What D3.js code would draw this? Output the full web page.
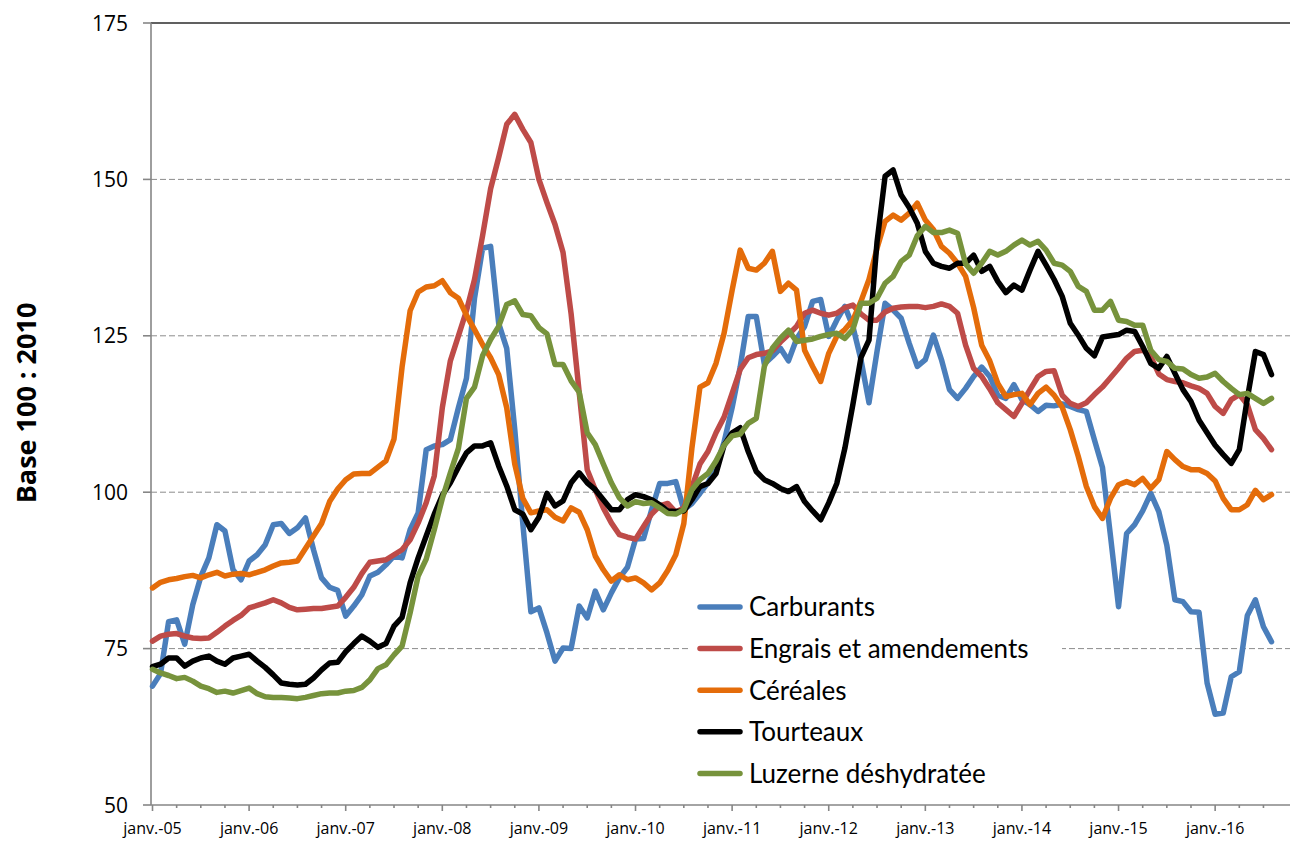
<!DOCTYPE html>
<html>
<head>
    <meta charset="utf-8">
    <title>Indices des prix des intrants</title>
    <script src="https://d3js.org/d3.v7.min.js"></script>
    <style>
        body { margin: 0; background: #fff; }
        .grid { stroke: #8c8c8c; stroke-width: 1; stroke-dasharray: 6,3; }
        .axis-line { stroke: #868686; stroke-width: 1.6; }
        .tick-y { font-family: "Open Sans", sans-serif; font-size: 21px; fill: #000; }
        .tick-x { font-family: "Open Sans", sans-serif; font-size: 16px; fill: #000; }
        .legend-label { font-family: Lato, sans-serif; font-size: 26px; fill: #000; }
        .serie { fill: none; stroke-width: 5.5; stroke-linejoin: round; stroke-linecap: round; }
    </style>
</head>
<body>
    <div id="chart"></div>
    <script>
        const width = 1290;
        const height = 842;

        // séries mensuelles, janv. 2005 -> août 2016 (base 100 : 2010)
        const carburants = [
            69.0, 71.0, 79.3, 79.6, 75.7, 82.0, 86.5, 89.5, 94.8, 93.8, 87.6, 86.0,
            89.0, 90.0, 91.6, 94.8, 95.0, 93.4, 94.3, 95.9, 90.8, 86.3, 84.8, 84.3,
            80.2, 81.8, 83.6, 86.6, 87.2, 88.4, 89.8, 89.5, 94.0, 96.7, 106.8, 107.4,
            107.6, 108.4, 113.5, 118.2, 131.0, 139.0, 139.3, 127.0, 123.0, 110.0, 95.0, 80.9,
            81.5, 77.5, 73.0, 75.1, 75.0, 81.8, 79.9, 84.2, 81.2, 83.9, 86.3, 88.0,
            92.5, 92.6, 97.2, 101.4, 101.4, 101.7, 97.2, 98.2, 99.8, 101.5, 104.0, 108.0,
            113.5, 120.0, 128.1, 128.1, 120.5, 121.7, 123.0, 121.0, 124.5, 126.5, 130.5, 130.8,
            124.9, 127.5, 129.7, 126.5, 121.2, 114.3, 122.5, 130.2, 129.1, 127.8, 123.8, 120.1,
            121.2, 125.1, 121.2, 116.4, 115.0, 116.6, 118.5, 120.0, 118.5, 115.5, 115.0, 117.2,
            114.8, 114.0, 112.9, 113.9, 113.8, 114.1, 113.7, 113.2, 112.9, 108.4, 104.0, 93.0,
            81.7, 93.4, 94.8, 97.0, 99.8, 96.9, 91.5, 82.8, 82.5, 80.9, 80.8, 69.5,
            64.5, 64.7, 70.5, 71.3, 80.3, 82.8, 78.5, 76.1
        ];
        const engrais = [
            76.2, 77.0, 77.3, 77.4, 77.0, 76.7, 76.6, 76.7, 77.6, 78.6, 79.5, 80.3,
            81.5, 81.9, 82.3, 82.8, 82.3, 81.6, 81.2, 81.3, 81.4, 81.4, 81.6, 81.8,
            83.2, 84.8, 87.0, 88.8, 89.0, 89.2, 90.0, 90.8, 92.4, 95.1, 98.3, 102.6,
            113.5, 121.0, 125.0, 129.0, 134.0, 141.0, 148.5, 153.5, 158.8, 160.4, 158.0, 155.9,
            150.0, 146.3, 142.8, 138.3, 128.5, 116.0, 103.6, 100.4, 97.5, 95.1, 93.2, 92.8,
            92.5, 94.5, 96.5, 97.8, 98.2, 96.8, 97.5, 100.8, 104.5, 106.5, 109.5, 112.0,
            115.8, 119.6, 121.5, 122.0, 122.2, 122.6, 124.0, 125.2, 126.5, 128.6, 129.1, 128.6,
            128.3, 128.6, 129.5, 129.9, 128.5, 127.5, 127.5, 128.8, 129.4, 129.6, 129.7, 129.7,
            129.5, 129.7, 130.1, 129.7, 128.6, 123.5, 119.8, 118.5, 116.5, 114.3, 113.2, 112.1,
            114.2, 116.4, 118.5, 119.3, 119.4, 115.5, 114.2, 113.7, 114.3, 115.6, 116.8, 118.3,
            119.8, 121.4, 122.5, 122.7, 121.7, 118.9, 118.0, 117.7, 117.5, 117.0, 116.6, 115.8,
            113.7, 112.6, 114.8, 115.6, 114.0, 110.0, 108.6, 106.8
        ];
        const cereales = [
            84.7, 85.6, 86.0, 86.2, 86.5, 86.7, 86.3, 86.8, 87.2, 86.6, 86.9, 87.0,
            86.8, 87.2, 87.6, 88.2, 88.7, 88.8, 89.0, 91.0, 93.0, 95.0, 98.5, 100.5,
            102.0, 102.9, 103.0, 103.0, 104.0, 105.0, 108.5, 120.0, 129.0, 132.0, 132.8, 133.0,
            133.8, 131.9, 131.0, 128.3, 126.0, 123.6, 121.5, 118.8, 113.5, 104.5, 99.0, 96.7,
            97.0, 97.2, 96.0, 95.4, 97.5, 96.8, 94.0, 89.8, 87.6, 85.8, 86.8, 86.0,
            86.3, 85.5, 84.4, 85.5, 87.5, 90.0, 95.0, 107.0, 116.8, 117.5, 120.6, 125.4,
            132.3, 138.7, 135.8, 135.5, 136.6, 138.5, 132.1, 133.4, 132.3, 122.7, 120.1, 117.7,
            122.2, 124.9, 126.0, 127.5, 130.5, 134.0, 139.0, 143.3, 144.3, 143.5, 144.6, 146.2,
            143.5, 142.0, 139.3, 138.2, 136.6, 134.5, 129.5, 123.5, 121.0, 117.4, 115.3, 115.6,
            115.8, 114.0, 115.8, 116.8, 115.5, 113.6, 110.0, 105.7, 100.9, 97.7, 95.8, 99.0,
            101.2, 101.7, 101.2, 102.2, 100.6, 102.0, 106.5, 105.2, 104.1, 103.6, 103.6, 103.0,
            101.8, 99.0, 97.2, 97.2, 98.0, 100.3, 98.8, 99.6
        ];
        const tourteaux = [
            72.1, 72.5, 73.5, 73.5, 72.2, 73.0, 73.5, 73.8, 73.0, 72.5, 73.5, 73.8,
            74.1, 73.0, 72.0, 70.8, 69.5, 69.3, 69.2, 69.3, 70.3, 71.6, 72.7, 72.8,
            74.5, 75.8, 77.0, 76.2, 75.2, 75.8, 78.6, 80.0, 85.5, 89.5, 93.0, 96.5,
            99.5, 101.5, 104.0, 106.3, 107.4, 107.4, 107.9, 104.2, 101.0, 97.2, 96.5, 94.0,
            96.0, 99.8, 97.8, 98.6, 101.5, 103.1, 101.5, 100.4, 98.8, 97.2, 97.2, 98.8,
            99.6, 99.3, 98.8, 98.0, 97.0, 96.9, 97.0, 98.8, 100.9, 101.4, 103.0, 107.5,
            109.5, 110.3, 106.5, 103.3, 102.0, 101.4, 100.6, 100.1, 100.9, 98.5, 97.0, 95.6,
            98.3, 101.4, 107.0, 114.0, 121.5, 124.3, 140.0, 150.5, 151.5, 147.5, 145.5, 143.0,
            138.5, 136.6, 136.1, 135.8, 136.6, 136.6, 137.9, 135.3, 136.1, 133.7, 131.9, 133.1,
            132.3, 135.5, 138.5, 136.3, 134.0, 131.3, 127.0, 125.1, 123.0, 121.8, 124.8, 125.0,
            125.2, 125.9, 125.7, 123.3, 120.6, 119.8, 121.7, 119.0, 116.4, 114.5, 111.5, 109.5,
            107.5, 106.0, 104.6, 106.8, 115.0, 122.5, 122.0, 118.8
        ];
        const luzerne = [
            71.7, 71.1, 70.7, 70.2, 70.4, 69.8, 69.0, 68.6, 68.0, 68.2, 67.9, 68.3,
            68.7, 67.8, 67.3, 67.2, 67.2, 67.1, 67.0, 67.2, 67.5, 67.8, 67.9, 67.9,
            68.2, 68.3, 68.8, 70.0, 71.8, 72.4, 74.0, 75.4, 80.7, 86.6, 89.3, 94.0,
            99.0, 103.1, 107.0, 115.0, 116.8, 121.8, 124.4, 126.5, 130.0, 130.6, 128.4, 128.2,
            126.3, 125.3, 120.4, 120.4, 117.8, 116.0, 109.5, 107.6, 104.5, 101.5, 99.1, 97.8,
            98.5, 98.2, 98.3, 97.5, 96.6, 96.5, 97.2, 100.4, 102.0, 103.0, 105.0, 107.5,
            109.0, 109.3, 111.0, 111.8, 120.1, 123.0, 124.6, 125.9, 124.1, 124.3, 124.5, 124.9,
            125.2, 125.4, 124.6, 126.0, 130.2, 130.2, 131.0, 133.4, 134.5, 136.9, 137.9, 141.0,
            142.5, 141.5, 141.5, 141.9, 141.4, 136.5, 135.0, 136.6, 138.5, 137.9, 138.5, 139.5,
            140.3, 139.5, 140.1, 138.7, 136.6, 136.3, 135.3, 132.9, 132.1, 129.1, 129.1, 130.5,
            127.5, 127.3, 126.7, 126.7, 122.7, 121.2, 120.9, 119.8, 119.7, 118.8, 118.2, 118.4,
            119.0, 117.7, 116.6, 115.6, 115.8, 115.0, 114.2, 115.0
        ];

        const seriesNames = ["Carburants", "Engrais et amendements", "Céréales", "Tourteaux", "Luzerne déshydratée"];
        const seriesColors = ["#4a7ebb", "#be4b48", "#e46c0a", "#000000", "#77933c"];
        const seriesValues = [carburants, engrais, cereales, tourteaux, luzerne];

        const yearLabels = ["janv.-05", "janv.-06", "janv.-07", "janv.-08", "janv.-09", "janv.-10",
                            "janv.-11", "janv.-12", "janv.-13", "janv.-14", "janv.-15", "janv.-16"];
        const yTicks = [50, 75, 100, 125, 150, 175];

        const svg = d3.select("#chart")
            .append("svg")
            .attr("width", width)
            .attr("height", height);

        const x = d3.scaleLinear()
            .domain([0, carburants.length - 1])
            .range([152.5, 1271.5]);

        const y = d3.scaleLinear()
            .domain([50, 175])
            .range([805, 23]);

        const left = 151, right = 1290;

        // grille horizontale
        svg.selectAll(".grid")
            .data(yTicks.filter(t => t > 50 && t < 175))
            .enter()
            .append("line")
            .attr("class", "grid")
            .attr("x1", left).attr("x2", right)
            .attr("y1", d => y(d)).attr("y2", d => y(d));

        // ligne du haut (175)
        svg.append("line")
            .attr("x1", left).attr("x2", right)
            .attr("y1", y(175)).attr("y2", y(175))
            .attr("stroke", "#2b2b2b")
            .attr("stroke-width", 1.3);

        // axe Y
        svg.append("line")
            .attr("class", "axis-line")
            .attr("x1", left).attr("x2", left)
            .attr("y1", y(175)).attr("y2", y(50));

        svg.selectAll(".ytick")
            .data(yTicks)
            .enter()
            .append("line")
            .attr("class", "axis-line")
            .attr("x1", left - 8).attr("x2", left)
            .attr("y1", d => y(d)).attr("y2", d => y(d));

        svg.selectAll(".tick-y")
            .data(yTicks)
            .enter()
            .append("text")
            .attr("class", "tick-y")
            .attr("x", 128)
            .attr("y", d => y(d))
            .attr("dy", "0.36em")
            .attr("text-anchor", "end")
            .text(d => d);

        svg.append("text")
            .attr("transform", "translate(36,403) rotate(-90)")
            .attr("text-anchor", "middle")
            .style("font-family", "'Open Sans', sans-serif")
            .style("font-weight", "bold")
            .style("font-size", "27px")
            .text("Base 100 : 2010");

        // axe X : graduation trimestrielle, grande graduation en janvier
        svg.append("line")
            .attr("class", "axis-line")
            .attr("x1", left).attr("x2", right)
            .attr("y1", y(50)).attr("y2", y(50));

        const quarters = d3.range(0, carburants.length + 1, 3);
        svg.selectAll(".xtick")
            .data(quarters)
            .enter()
            .append("line")
            .attr("class", "axis-line")
            .attr("x1", d => x(d)).attr("x2", d => x(d))
            .attr("y1", y(50))
            .attr("y2", d => y(50) + (d % 12 === 0 ? 6 : 3));

        svg.selectAll(".tick-x")
            .data(yearLabels)
            .enter()
            .append("text")
            .attr("class", "tick-x")
            .attr("x", (d, i) => x(i * 12))
            .attr("y", 834)
            .attr("text-anchor", "middle")
            .text(d => d);

        // courbes
        const line = d3.line()
            .x((d, i) => x(i))
            .y(d => y(d));

        svg.selectAll(".serie")
            .data(seriesValues)
            .enter()
            .append("path")
            .attr("class", "serie")
            .attr("stroke", (d, i) => seriesColors[i])
            .attr("d", line);

        // légende
        const legend = svg.append("g");
        legend.append("rect")
            .attr("x", 690).attr("y", 586)
            .attr("width", 372).attr("height", 206)
            .attr("fill", "#fff");

        const rows = legend.selectAll(".row")
            .data(seriesNames)
            .enter()
            .append("g")
            .attr("transform", (d, i) => "translate(700," + (607 + i * 41.6) + ")");

        rows.append("line")
            .attr("x1", 0).attr("x2", 40)
            .attr("stroke", (d, i) => seriesColors[i])
            .attr("stroke-width", 5.5)
            .attr("stroke-linecap", "round");

        rows.append("text")
            .attr("class", "legend-label")
            .attr("x", 49)
            .attr("dy", "0.36em")
            .text(d => d);
    </script>
</body>
</html>
